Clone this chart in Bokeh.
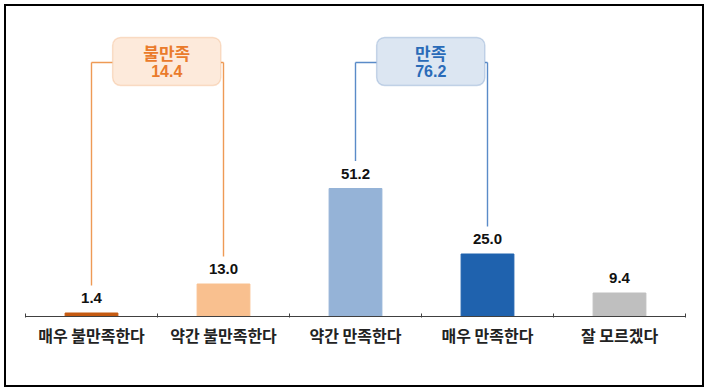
from bokeh.plotting import figure
from bokeh.models import ColumnDataSource, Range1d, FixedTicker, BoxAnnotation, Label
from bokeh.core.properties import value
from bokeh.embed import file_html
from bokeh.resources import INLINE

# ---- data ----
categories = ["매우 불만족한다", "약간 불만족한다", "약간 만족한다", "매우 만족한다", "잘 모르겠다"]
values = [1.4, 13.0, 51.2, 25.0, 9.4]
bar_colors = ["#C55A11", "#F9C08F", "#95B3D7", "#1F62AE", "#BFBFBF"]
value_labels = ["1.4", "13.0", "51.2", "25.0", "9.4"]

group_names = ["불만족", "만족"]
group_members = [[0, 1], [2, 3]]
group_totals = ["14.4", "76.2"]
group_line_colors = ["#EE9A55", "#5A8BC8"]
group_fill_colors = ["#FDEADB", "#DCE6F2"]
group_edge_colors = ["#F0A060", "#5A86BE"]
group_text_colors = ["#EA7B2C", "#2A6BB8"]

xs = list(range(len(categories)))

p = figure(width=708, height=391, output_backend="svg", toolbar_location=None,
           x_range=Range1d(-0.5, len(categories) - 0.5), y_range=Range1d(0, 119.2),
           y_axis_location=None, min_border_left=25, min_border_right=23,
           min_border_top=18, min_border_bottom=75)
p.frame_width = 660
p.frame_height = 298
p.outline_line_color = None
p.grid.visible = False
p.background_fill_color = None
p.border_fill_color = None
p.styles = {"outline": "2px solid black", "outline-offset": "-6px"}

src = ColumnDataSource(dict(x=xs, top=values, color=bar_colors, label=value_labels))
p.vbar(x="x", top="top", width=0.4, color="color", source=src)
p.text(x="x", y="top", text="label", source=src, text_align="center",
       text_baseline="alphabetic", y_offset=-15, text_font=value("Liberation Sans"),
       text_font_style="bold", text_font_size="15px", text_color="#111111")

# axis
ax = p.xaxis[0]
ax.ticker = FixedTicker(ticks=xs, minor_ticks=[i - 0.5 for i in range(len(categories) + 1)])
ax.major_label_overrides = {i: c for i, c in zip(xs, categories)}
ax.major_tick_line_color = None
ax.minor_tick_in = 3
ax.minor_tick_out = 1
ax.minor_tick_line_color = "#404040"
ax.axis_line_color = "#404040"
ax.major_label_standoff = 0
ax.major_label_text_font = "Noto Sans CJK KR"
ax.major_label_text_font_style = "bold"
ax.major_label_text_font_size = "16px"
ax.major_label_text_color = "#222222"

# brackets
leg_gap = 11
bracket_y = 101.6
box_half_w = 0.41
box_top, box_bot = 111.6, 92.4
for g, members in enumerate(group_members):
    a, b = members
    xa, xb = xs[a], xs[b]
    cx = (xa + xb) / 2 + 0.07
    col = group_line_colors[g]
    p.segment(x0=[xa, xb], y0=[values[a] + leg_gap, values[b] + leg_gap],
              x1=[xa, xb], y1=[bracket_y, bracket_y], line_color=col, line_width=1.4)
    p.segment(x0=[xa, cx + box_half_w], y0=[bracket_y, bracket_y],
              x1=[cx - box_half_w, xb], y1=[bracket_y, bracket_y], line_color=col, line_width=1.4)
    box = BoxAnnotation(left=cx - box_half_w, right=cx + box_half_w, top=box_top, bottom=box_bot,
                        fill_color=group_fill_colors[g], fill_alpha=1.0,
                        line_color=group_edge_colors[g], line_width=1.4, border_radius=8)
    p.add_layout(box)
    cy = (box_top + box_bot) / 2
    p.add_layout(Label(x=cx, y=cy, y_offset=9, text=group_names[g], text_align="center",
                       text_baseline="middle", text_font="Noto Sans CJK KR", text_font_style="bold",
                       text_font_size="17px", text_color=group_text_colors[g]))
    p.add_layout(Label(x=cx, y=cy, y_offset=-9, text=group_totals[g], text_align="center",
                       text_baseline="middle", text_font="Liberation Sans", text_font_style="bold",
                       text_font_size="16px", text_color=group_text_colors[g]))

open("out.html", "w").write(file_html(p, INLINE))
